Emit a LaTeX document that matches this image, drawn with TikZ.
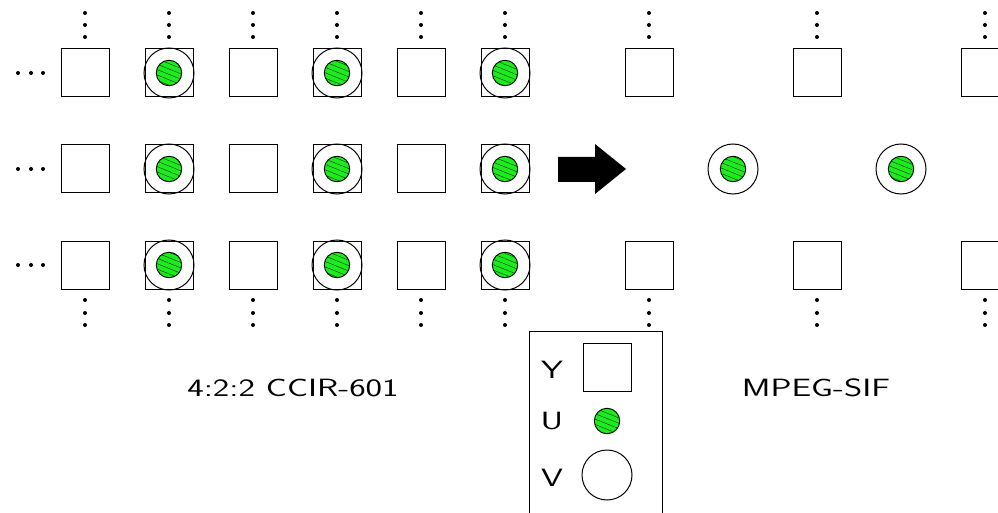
\documentclass[tikz,border=0pt]{standalone}
\usepackage{fontspec}
\usetikzlibrary{patterns.meta}
\definecolor{dotgreen}{RGB}{30,235,30}
\newcommand\widetxt[1]{\scalebox{1.4}[1]{#1}}
\begin{document}
\begin{tikzpicture}[x=1pt,y=-1pt,
  ysq/.style={draw,line width=1pt,minimum size=48pt,inner sep=0pt,outer sep=0pt},
  vcirc/.style={draw,circle,line width=1pt,minimum size=50pt,inner sep=0pt},
  udot/.style={draw,circle,line width=0.9pt,minimum size=25.5pt,inner sep=0pt,
     preaction={fill=dotgreen},pattern={Lines[angle=-22,distance=5pt,line width=0.45pt]},pattern color=black!75!green},
  pt/.style={circle,fill=black,minimum size=4pt,inner sep=0pt},
  lbl/.style={font=\sffamily\fontsize{25}{30}\selectfont,inner sep=0pt}]
\useasboundingbox (0,0) rectangle (998,513);
\clip (0,0) rectangle (998,513);
% left grid
\foreach \c/\x in {1/85,2/169,3/253,4/337,5/421,6/505}{
  \foreach \r/\y in {1/73,2/169,3/265}{
    \node[ysq] (L\c\r) at (\x,\y) {};
  }
  \node[pt] (Lt\c a) at (\x,13) {};
  \node[pt] (Lt\c b) at (\x,25) {};
  \node[pt] (Lt\c c) at (\x,37) {};
  \node[pt] (Lb\c a) at (\x,300) {};
  \node[pt] (Lb\c b) at (\x,313) {};
  \node[pt] (Lb\c c) at (\x,325) {};
}
\foreach \c/\x in {2/169,4/337,6/505}{
  \foreach \r/\y in {1/73,2/169,3/265}{
    \node[vcirc] (V\c\r) at (\x,\y) {};
    \node[udot] (U\c\r) at (\x,\y) {};
  }
}
\foreach \r/\y in {1/73,2/169,3/265}{
  \node[pt] (h\r a) at (18,\y) {};
  \node[pt] (h\r b) at (31,\y) {};
  \node[pt] (h\r c) at (43,\y) {};
}
% arrow
\fill (558,157) -- (595,157) -- (595,144) -- (626,169) -- (595,194) -- (595,182) -- (558,182) -- cycle;
% right grid
\foreach \c/\x in {1/649,2/817,3/985}{
  \node[ysq] (R\c1) at (\x,73) {};
  \node[ysq] (R\c3) at (\x,265) {};
  \node[pt] (Rt\c a) at (\x,13) {};
  \node[pt] (Rt\c b) at (\x,25) {};
  \node[pt] (Rt\c c) at (\x,37) {};
  \node[pt] (Rb\c a) at (\x,300) {};
  \node[pt] (Rb\c b) at (\x,313) {};
  \node[pt] (Rb\c c) at (\x,325) {};
}
\foreach \c/\x in {1/733,2/901}{
  \node[vcirc] (RV\c) at (\x,169) {};
  \node[udot] (RU\c) at (\x,169) {};
}
% titles
\node[lbl] (t1) at (293,388) {\widetxt{4:2:2 CCIR-601}};
\node[lbl] (t2) at (816,388) {\widetxt{MPEG-SIF}};
% legend
\draw[line width=1pt] (529,531) -- (529,331) -- (662,331) -- (662,531);
\node[ysq] (legY) at (607,367) {};
\node[udot] (legU) at (607,421) {};
\node[vcirc] (legV) at (607,475) {};
\node[lbl] (lY) at (552,370) {\widetxt{Y}};
\node[lbl] (lU) at (552,421) {\widetxt{U}};
\node[lbl] (lV) at (552,478) {\widetxt{V}};
\end{tikzpicture}
\end{document}
